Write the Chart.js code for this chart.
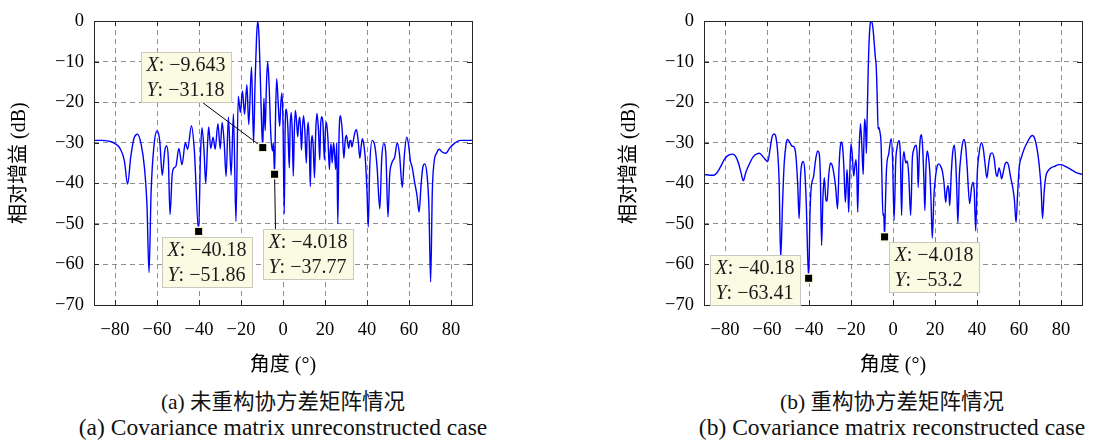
<!DOCTYPE html>
<html lang="zh">
<head>
<meta charset="utf-8">
<title>方向图对比</title>
<script src="https://cdn.jsdelivr.net/npm/chart.js@4.4.1/dist/chart.umd.min.js"></script>
<style>
    html, body { margin: 0; padding: 0; background: #fff; overflow: hidden; }
    body {
        width: 1093px; height: 441px; position: relative;
        font-family: "Liberation Serif", "Noto Sans CJK SC", serif; color: #111;
    }
    canvas { position: absolute; top: 0; }
    #chart-a { left: 0; }
    #chart-b { left: 610px; }
    .caption {
        position: absolute; width: 480px; text-align: center;
        font-size: 21.5px; line-height: 24px; white-space: nowrap;
    }
    .zh { top: 390px; }
    .en { top: 415px; font-size: 23.5px; }
    .left { left: 43px; }
    .right { left: 652px; }
</style>
</head>
<body>
<canvas id="chart-a" width="482" height="380"></canvas>
<canvas id="chart-b" width="482" height="380"></canvas>
<div class="caption zh left">(a) 未重构协方差矩阵情况</div>
<div class="caption en left">(a) Covariance matrix unreconstructed case</div>
<div class="caption zh right">(b) 重构协方差矩阵情况</div>
<div class="caption en right">(b) Covariance matrix reconstructed case</div>
<script>
(function () {
    'use strict';

    const X_TICKS = [-80, -60, -40, -20, 0, 20, 40, 60, 80];
    const Y_MIN = -70;
    const Y_MAX = 0;

    // (a) sans reconstruction
    const anglesA = [
        -90, -86, -83, -80, -77.5, -75.5, -74, -72.5, -71, -69.3, -67.5, -66, -64.8, -63.8, -62.8, -61.5,
        -60, -58.7, -57.5, -56.3, -55.4, -54.6, -53.8, -52.8, -51.9, -51, -49.6, -48.1, -46.5, -45.4, -43.6,
        -42.2, -40.18, -39.3, -38.6, -37.6, -36.8, -35.9, -35.4, -34.4, -33.3, -32.3, -31, -29.9, -29,
        -28, -27.1, -26, -24.7, -23.6, -22.4, -21.3, -20.3, -19.3, -18.3, -17.2, -16.3, -15, -14, -13.3,
        -12.6, -12, -11.4, -10.8, -10.2, -9.643, -9.1, -8.5, -7.9, -7.3, -6.6, -5.8, -5, -4.6, -4.018,
        -3.5, -3, -2.3, -1.6, -1, -0.5, 0, 0.6, 1, 1.6, 2.3, 3, 3.4, 3.9, 4.4, 4.9, 5.4, 5.9, 6.5, 7,
        7.5, 8, 8.4, 8.8, 9.3, 9.8, 10.4, 11.1, 11.5, 12, 12.5, 13, 13.4, 13.9, 14.4, 15, 15.6, 16.2,
        16.9, 17.5, 17.9, 18.4, 19, 19.7, 20.2, 20.7, 21.4, 22.1, 22.5, 22.9, 23.4, 24.1, 24.6, 25.1,
        25.6, 26.1, 26.7, 27.4, 28.2, 29, 29.6, 30.2, 30.8, 31.3, 31.8, 32.3, 32.8, 33.3, 34.2, 35,
        35.8, 36.6, 37.2, 37.8, 38.5, 39.2, 40, 40.6, 41.3, 42.5, 43.8, 44.8, 46.1, 47, 48, 49, 50,
        50.8, 51.8, 53.2, 54.4, 55.5, 56.8, 57.8, 58.9, 59.8, 60.7, 61.5, 62.7, 63.8, 64.8, 65.8, 66.6,
        67.5, 68.6, 69.5, 70.3, 71.1, 71.9, 73.2, 74.5, 75.6, 77.5, 79.5, 81.5, 84.5, 87, 90
    ];
    const gainsA = [
        -29.4, -29.4, -29.6, -30.2, -31.5, -34.5, -40.2, -33.5, -29, -27.9, -30.5, -36, -45, -62, -42, -31,
        -27.1, -29.5, -38, -32, -30.8, -34, -47.7, -38, -36.2, -35.8, -31.4, -35.4, -30, -31.6, -25.8,
        -32, -51.86, -33, -26.3, -32, -40, -30, -26.1, -31.4, -28.6, -31.6, -25.3, -31.5, -25,
        -30, -38.3, -23.7, -38, -22.9, -49.4, -18.5, -22.5, -17.2, -23, -15.7, -25.5, -11.3, -30, -15,
        -4, 0, -4, -14, -25, -31.18, -19, -27, -16, -10, -16, -28, -32, -30, -37.77,
        -22, -14.2, -20, -26, -20, -17.7, -25, -47.5, -27, -21.7, -26, -36.2, -26, -22.5, -27, -38.2, -27, -22, -25, -28.5,
        -25, -23.7, -27, -31.8, -26, -23.3, -27, -35, -28, -24.9, -30, -40.8, -31, -28.2, -31, -38.6, -27, -22.8,
        -27, -34.2, -26, -23.6, -25, -34.2, -27, -24.9, -29, -36.6, -32, -30.2, -35, -30, -33, -36.6,
        -30, -50, -28, -23.3, -27, -33.8, -29.5, -28.2, -30, -31.4, -29.6, -29.4, -31, -30, -27.5, -26.8,
        -29.5, -33.8, -31, -29, -30.5, -34, -42, -50.7, -36, -29.4, -31, -36, -46.3, -34, -30.2, -33, -48.3,
        -38, -35, -33.5, -30, -33, -41, -33, -28.6, -30.5, -34.6, -36, -39.8, -43, -47.1, -40, -36,
        -35.2, -38, -46, -64.3, -42, -35, -32.5, -31.6, -32.2, -32.6, -31.2, -30.2, -29.4, -29.4, -29.4
    ];

    // (b) avec reconstruction
    const anglesB = [
        -90, -87, -85.5, -84, -82.4, -80.5, -79, -76.5, -75, -73.6, -72.3, -71.3, -70.2, -68.9, -66.5,
        -64.5, -63.6, -61.7, -59.6, -58.4, -57.6, -56.6, -55.8, -55, -54.2, -53.5, -52.6, -51.8, -50.8,
        -50.2, -49.3, -48.1, -47, -46.2, -45.4, -44.7, -44, -43.3, -42.7, -42, -41.3, -40.18, -39.5,
        -39, -37.8, -36.8, -35.9, -35.2, -34.6, -34, -33.4, -32.7, -31.9, -31.4, -30.6, -29.8, -29,
        -28.2, -27.3, -26.4, -25.7, -25.2, -24.7, -24, -23.4, -22.7, -22.2, -21.9, -21.5, -21.1, -20.5,
        -20, -19.4, -18.7, -18.1, -17.6, -17.2, -16.8, -16.2, -15.5, -14.9, -14.2, -13.9, -13.5, -13,
        -12.7, -12.3, -11.8, -11.3, -10.7, -10.2, -9.6, -9, -8.4, -8, -7.5, -7.1, -6.7, -6.2, -5.7,
        -5.3, -4.8, -4.4, -4.018, -3.6, -3.1, -2, -0.9, -0.2, 0.5, 1.3, 2, 2.8, 3.5, 4.1, 4.6, 5.2,
        5.7, 6.2, 6.8, 7.5, 8.4, 9.2, 9.8, 10.5, 11.1, 11.6, 12, 12.6, 13.1, 13.6, 14.2, 14.7, 15.2,
        15.7, 16.3, 16.9, 17.5, 18.1, 18.7, 19.5, 20.3, 21.2, 21.9, 22.7, 23.5, 24.3, 25.1, 25.6, 26.2,
        26.6, 27, 27.7, 28.4, 29.2, 29.9, 30.4, 30.9, 31.6, 32.2, 33, 33.8, 34.6, 35.3, 36.5, 37.4,
        38.2, 38.7, 39.4, 40.1, 41, 42.1, 43, 43.8, 44.7, 45.6, 46.4, 47.2, 48.2, 49, 49.6, 50.5, 51.2,
        51.7, 52.6, 53.4, 54.2, 55, 56, 57, 57.8, 58.6, 59.3, 60.1, 61.2, 62.5, 64, 65.5, 66.5, 67.5,
        68.6, 69.6, 70.5, 71.2, 72, 72.8, 74, 75.2, 77, 79, 80, 82, 84.8, 87, 90
    ];
    const gainsB = [
        -37.8, -38, -38, -37.5, -36.2, -34.3, -33.3, -32.8, -33.3, -35, -37.5, -39.4, -37.5, -35.8, -33.4,
        -32.7, -32.6, -33.6, -34.6, -31, -28.6, -27.8, -28.5, -31.8, -40, -58.5, -45, -35, -30,
        -29.2, -29.8, -30.8, -31.1, -33.5, -40, -48.7, -38, -35, -34.6, -37, -45, -63.41, -47,
        -41.4, -38.2, -34, -32, -32.5, -38, -55.3, -44, -38.6, -44.4, -44.2, -38, -35, -35.5,
        -37.5, -41, -46.3, -36, -31.5, -29.8, -31, -36, -44.7, -40, -36.6, -40, -47.1, -36,
        -30.2, -33, -38.2, -35.5, -34.2, -38, -47.1, -33, -25.3, -30, -37.8, -31, -24.1, -27,
        -32.6, -24, -12, -4, -0.3, 0, -1.5, -5, -9, -11, -19, -26.6, -26.2, -27.4, -30,
        -38, -47.9, -47.5, -53.2, -45, -36.6, -32.6, -29, -34, -49.1, -34.6, -31, -29.5, -33, -47.9, -36, -32.2,
        -34, -35, -34.5, -38, -47.9, -34, -31.8, -30.8, -30.6, -34, -41, -32, -28.5, -28, -32, -39, -46.7,
        -36, -32, -33.5, -37, -44, -53.5, -43, -38.2, -35.5, -35.2, -35.8, -37, -40, -44.7, -42, -40.5,
        -42, -45.5, -38, -32.5, -30.6, -35, -42, -49.8, -38, -34, -30.5, -29.2, -31, -36, -45, -41,
        -39.8, -42, -51.7, -38, -32.6, -30, -31.5, -35, -38.7, -35, -32.8, -32.5, -34, -37.5, -38.3, -36.2, -37.5,
        -38.9, -37, -35.2, -34.8, -35.5, -38.5, -41, -44, -49.6, -43, -36, -33.5, -31.5, -29.8, -28.5, -28.2, -29,
        -31.5, -35.4, -41, -48.7, -42, -38.2, -36.8, -36.2, -35.8, -35.4, -35.4, -35.8, -36.6, -37.3, -37.8
    ];

    // Points annotés (bulles de données)
    const tipsA = [
        { x: -9.643, y: -31.18 },
        { x: -40.18, y: -51.86 },
        { x: -4.018, y: -37.77 }
    ];
    const tipsB = [
        { x: -40.18, y: -63.41 },
        { x: -4.018, y: -53.2 }
    ];

    // Placement des bulles par rapport au marqueur (px) ; lx/ly = attache du trait
    const tipLayoutA = [
        { dx: -122, dy: -96, lx: 61, ly: 'bottom' },
        { dx: -37, dy: 6 },
        { dx: -12, dy: 55, lx: 12, ly: 'top' }
    ];
    const tipLayoutB = [
        { dx: -99, dy: -23 },
        { dx: 4, dy: 5 }
    ];

    const SERIF = '"Liberation Serif", "Noto Sans CJK SC", serif';
    Chart.defaults.font.family = SERIF;
    Chart.defaults.color = '#111';

    const frameColor = '#262626';
    const gridColor = '#8e8e8e';

    function fmt(v) {
        return String(v).replace('-', '\u2212');
    }

    function drawTipText(ctx, x, y, label, value) {
        ctx.font = 'italic 20px ' + SERIF;
        ctx.fillText(label, x, y);
        const w = ctx.measureText(label).width;
        ctx.font = '20px ' + SERIF;
        ctx.fillText(': ' + fmt(value), x + w, y);
    }

    function tipWidth(ctx, label, value) {
        ctx.font = 'italic 20px ' + SERIF;
        const w = ctx.measureText(label).width;
        ctx.font = '20px ' + SERIF;
        return w + ctx.measureText(': ' + fmt(value)).width;
    }

    const framePlugin = {
        id: 'frame',
        afterDatasetsDraw(chart, args, opts) {
            const { ctx, chartArea: a, scales: { x, y } } = chart;
            ctx.save();
            ctx.setLineDash([]);
            ctx.strokeStyle = frameColor;
            ctx.lineWidth = 1;

            // graduations vers l'intérieur, sur les quatre côtés
            ctx.beginPath();
            X_TICKS.forEach(v => {
                const px = Math.round(x.getPixelForValue(v)) + 0.5;
                ctx.moveTo(px, a.bottom); ctx.lineTo(px, a.bottom - 5);
                ctx.moveTo(px, a.top); ctx.lineTo(px, a.top + 5);
            });
            y.ticks.forEach(t => {
                const py = Math.round(y.getPixelForValue(t.value)) + 0.5;
                ctx.moveTo(a.left, py); ctx.lineTo(a.left + 5, py);
                ctx.moveTo(a.right, py); ctx.lineTo(a.right - 5, py);
            });
            ctx.stroke();
            ctx.strokeRect(Math.round(a.left) + 0.5, Math.round(a.top) + 0.5,
                Math.round(a.right - a.left), Math.round(a.bottom - a.top));

            // bulles
            opts.tips.forEach((tip, i) => {
                const lay = opts.layout[i];
                const mx = x.getPixelForValue(tip.x);
                const my = y.getPixelForValue(tip.y);
                const w = Math.max(tipWidth(ctx, 'X', tip.x), tipWidth(ctx, 'Y', tip.y)) + 11;
                const h = 50;
                const bx = Math.round(mx + lay.dx) + 0.5;
                const by = Math.round(my + lay.dy) + 0.5;

                if (lay.lx !== undefined) {
                    ctx.strokeStyle = '#000';
                    ctx.beginPath();
                    ctx.moveTo(bx + lay.lx, lay.ly === 'bottom' ? by + h : by);
                    ctx.lineTo(mx, my);
                    ctx.stroke();
                }

                ctx.fillStyle = '#fbfbe4';
                ctx.strokeStyle = '#c9c9c0';
                ctx.fillRect(bx, by, w, h);
                ctx.strokeRect(bx, by, w, h);

                ctx.fillStyle = '#1a1a1a';
                ctx.textBaseline = 'middle';
                ctx.textAlign = 'left';
                drawTipText(ctx, bx + 5, by + 13, 'X', tip.x);
                drawTipText(ctx, bx + 5, by + 38, 'Y', tip.y);

                ctx.fillStyle = '#fbfbe4';
                ctx.fillRect(mx - 5, my - 5, 10, 10);
                ctx.fillStyle = '#000';
                ctx.fillRect(mx - 3.5, my - 3.5, 7, 7);
            });
            ctx.restore();
        }
    };

    function makeChart(id, angles, gains, tips, layout) {
        return new Chart(document.getElementById(id), {
            type: 'line',
            data: {
                datasets: [{
                    data: angles.map((a, i) => ({ x: a, y: gains[i] })),
                    borderColor: '#0000ff',
                    borderWidth: 1.4,
                    pointRadius: 0,
                    cubicInterpolationMode: 'monotone',
                    fill: false
                }]
            },
            options: {
                responsive: false,
                animation: false,
                events: [],
                layout: { padding: { top: 15, right: 10, left: 0, bottom: 0 } },
                plugins: {
                    legend: { display: false },
                    tooltip: { enabled: false },
                    frame: { tips: tips, layout: layout }
                },
                scales: {
                    x: {
                        type: 'linear',
                        min: -90,
                        max: 90,
                        afterBuildTicks: s => { s.ticks = X_TICKS.map(v => ({ value: v })); },
                        afterFit: s => { s.height = 75; },
                        grid: { color: gridColor, lineWidth: 1, drawTicks: false },
                        border: { display: false, dash: [5, 4] },
                        ticks: {
                            padding: 14,
                            color: '#000',
                            font: { size: 18.5 },
                            maxRotation: 0,
                            callback: v => fmt(v)
                        },
                        title: {
                            display: true,
                            text: '角度 (°)',
                            color: '#000',
                            font: { size: 20 },
                            padding: { top: 0, bottom: 2 }
                        }
                    },
                    y: {
                        min: Y_MIN,
                        max: Y_MAX,
                        afterFit: s => { s.width = 94; },
                        grid: { color: gridColor, lineWidth: 1, drawTicks: false },
                        border: { display: false, dash: [5, 4] },
                        ticks: {
                            stepSize: 10,
                            padding: 10,
                            color: '#000',
                            font: { size: 18.5 },
                            callback: v => fmt(v)
                        },
                        title: {
                            display: true,
                            text: '相对增益 (dB)',
                            color: '#000',
                            font: { size: 20 },
                            padding: { top: 8, bottom: 0 }
                        }
                    }
                }
            },
            plugins: [framePlugin]
        });
    }

    makeChart('chart-a', anglesA, gainsA, tipsA, tipLayoutA);
    makeChart('chart-b', anglesB, gainsB, tipsB, tipLayoutB);
})();
</script>
</body>
</html>
